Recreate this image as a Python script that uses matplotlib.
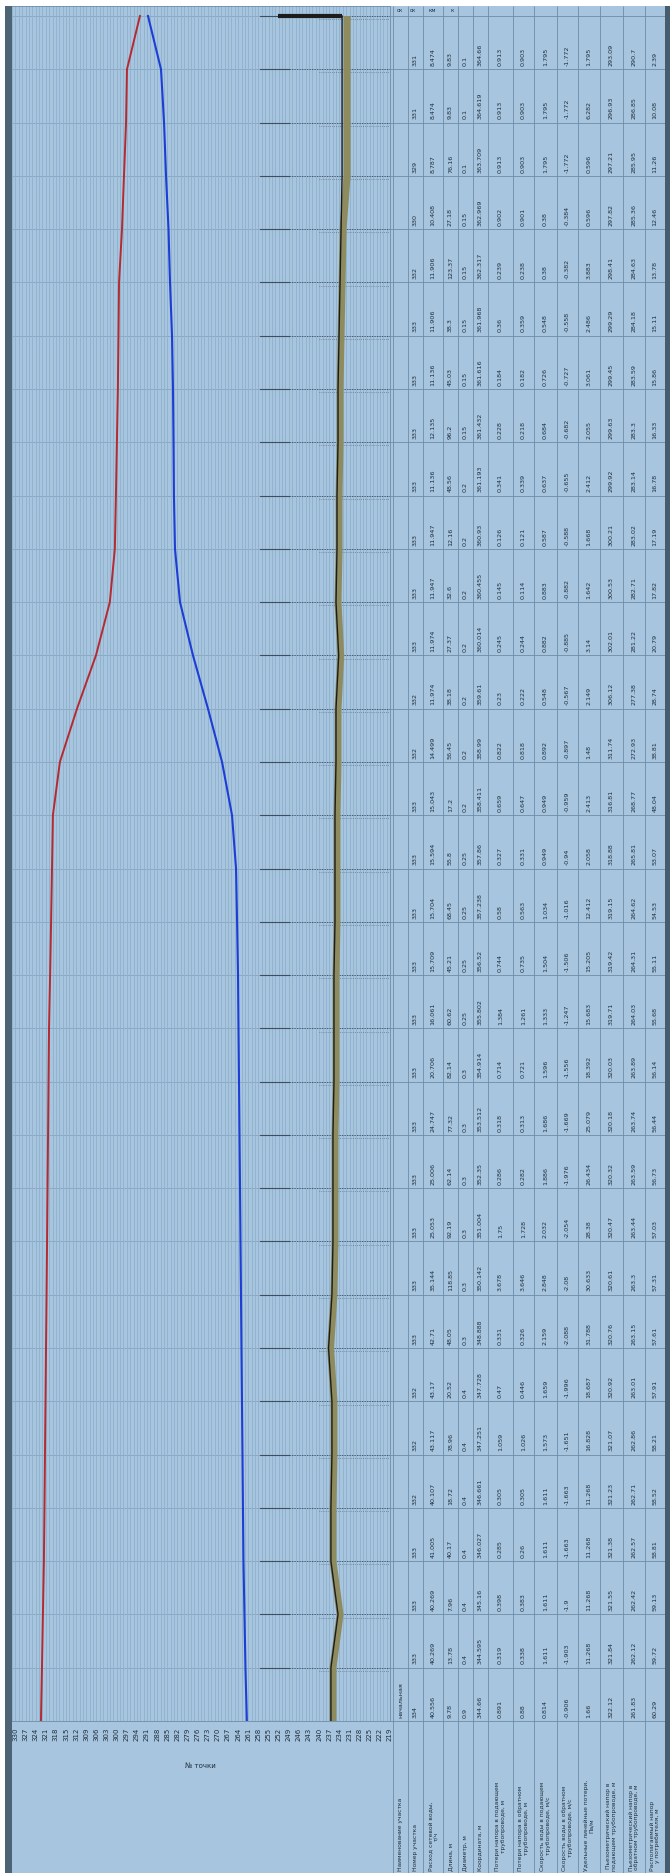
import matplotlib
matplotlib.use('Agg')
import matplotlib.pyplot as plt
from matplotlib.patches import Rectangle
from matplotlib.ticker import MultipleLocator, FormatStrFormatter

# точки трассы (0 - источник, 32 - конечный потребитель)
points = list(range(33))

# пьезометрические напоры, м
supply_head = [322.43, 322.12, 321.84, 321.55, 321.38, 321.23, 321.07, 320.92, 320.76, 320.61,
               320.47, 320.32, 320.18, 320.03, 319.71, 319.42, 319.15, 318.88, 316.81, 311.74,
               306.12, 302.01, 300.53, 300.21, 299.92, 299.63, 299.45, 299.29, 298.41, 297.82,
               297.21, 296.93, 293.09]
return_head = [261.41, 261.83, 262.12, 262.42, 262.57, 262.71, 262.86, 263.01, 263.15, 263.30,
               263.44, 263.59, 263.74, 263.89, 264.03, 264.31, 264.62, 265.81, 268.77, 272.93,
               277.38, 281.22, 282.71, 283.02, 283.14, 283.30, 283.59, 284.18, 284.63, 285.36,
               285.95, 286.85, 290.70]
ground = [235.9, 235.9, 233.8, 235.9, 235.9, 235.6, 235.6, 236.6, 235.6, 235.3, 235.3, 235.3,
          235.0, 235.0, 235.0, 234.7, 234.7, 234.7, 234.4, 234.4, 233.6, 234.4, 234.1, 234.1,
          233.8, 233.8, 233.5, 233.2, 232.9, 231.7, 231.7, 231.7, 231.7]
pipe = [236.5, 236.5, 234.4, 236.5, 236.5, 236.2, 236.2, 237.2, 236.2, 235.9, 235.9, 235.9,
        235.6, 235.6, 235.6, 235.3, 235.3, 235.3, 235.0, 235.0, 234.2, 235.0, 234.7, 234.7,
        234.4, 234.4, 234.1, 233.8, 233.5, 233.2, 233.2, 233.2, 233.2]
# высота здания у конечного потребителя
building_head = [252.2, 233.2]
building_point = [32, 32]

# таблица по участкам (снизу вверх)
seg_name = ['начальная'] + [''] * 31
seg_num = [334, 333, 333, 333, 332, 332, 332, 333, 333, 333, 333, 333, 333, 333, 333, 333,
           333, 333, 332, 332, 333, 333, 333, 333, 333, 333, 333, 332, 330, 329, 331, 331]
flow = [40.556, 40.269, 40.269, 41.005, 40.107, 43.117, 43.17, 42.71, 35.144, 25.053, 25.006,
        24.747, 20.706, 16.061, 15.709, 15.704, 15.594, 15.043, 14.499, 11.974, 11.974, 11.947,
        11.947, 11.136, 12.135, 11.136, 11.906, 11.906, 10.408, 8.787, 8.474, 8.474]
chainage = [344.66, 344.595, 345.16, 346.027, 346.661, 347.251, 347.728, 348.888, 350.142,
            351.004, 352.35, 353.512, 354.914, 355.802, 356.52, 357.238, 357.86, 358.411,
            358.99, 359.61, 360.014, 360.455, 360.93, 361.193, 361.432, 361.616, 361.968,
            362.317, 362.969, 363.709, 364.619, 364.66]
length = [9.78, 13.78, 7.96, 40.17, 18.72, 78.96, 20.52, 48.05, 118.85, 92.19, 62.14, 77.32,
          82.14, 60.62, 45.21, 68.45, 55.8, 17.2, 56.45, 38.18, 27.37, 32.6, 12.16, 48.56, 96.2,
          45.03, 38.3, 123.37, 27.18, 76.16, 9.83, 9.83]
diameter = [0.9, 0.4, 0.4, 0.4, 0.4, 0.4, 0.4, 0.3, 0.3, 0.3, 0.3, 0.3, 0.3, 0.25, 0.25, 0.25,
            0.25, 0.2, 0.2, 0.2, 0.2, 0.2, 0.2, 0.2, 0.15, 0.15, 0.15, 0.15, 0.15, 0.1, 0.1, 0.1]
loss_supply = [0.891, 0.319, 0.398, 0.285, 0.305, 1.059, 0.47, 0.331, 3.678, 1.75, 0.286, 0.318,
               0.714, 1.384, 0.744, 0.58, 0.327, 0.659, 0.822, 0.23, 0.245, 0.145, 0.126, 0.341,
               0.228, 0.184, 0.36, 0.239, 0.902, 0.913, 0.913, 0.913]
loss_return = [0.88, 0.338, 0.383, 0.26, 0.305, 1.026, 0.446, 0.326, 3.646, 1.728, 0.282, 0.313,
               0.721, 1.261, 0.735, 0.563, 0.331, 0.647, 0.818, 0.222, 0.244, 0.114, 0.121,
               0.339, 0.218, 0.182, 0.359, 0.238, 0.901, 0.903, 0.903, 0.903]
vel_supply = [0.814, 1.611, 1.611, 1.611, 1.611, 1.573, 1.659, 2.159, 2.848, 2.032, 1.886,
              1.686, 1.596, 1.333, 1.504, 1.034, 0.949, 0.949, 0.892, 0.548, 0.882, 0.883,
              0.587, 0.637, 0.684, 0.726, 0.548, 0.38, 0.38, 1.795, 1.795, 1.795]
vel_return = [-0.906, -1.903, -1.9, -1.663, -1.663, -1.651, -1.996, -2.088, -2.08, -2.054,
              -1.976, -1.669, -1.556, -1.247, -1.506, -1.016, -0.94, -0.959, -0.897, -0.567,
              -0.885, -0.882, -0.588, -0.655, -0.682, -0.727, -0.558, -0.382, -0.384, -1.772,
              -1.772, -1.772]
spec_loss = [1.66, 11.268, 11.268, 11.268, 11.268, 16.828, 18.687, 31.788, 30.633, 28.38,
             26.434, 25.079, 18.392, 15.683, 15.205, 12.412, 2.058, 2.413, 1.48, 2.149, 3.14,
             1.642, 1.668, 2.412, 2.055, 3.061, 2.486, 3.883, 0.596, 0.596, 6.282, 1.795]

row_labels = ['Наименование участка', 'Номер участка', 'Расход сетевой воды,\nт/ч',
              'Длина, м', 'Диаметр, м', 'Координата, м',
              'Потери напора в подающем\nтрубопроводе, м', 'Потери напора в обратном\nтрубопроводе, м',
              'Скорость воды в подающем\nтрубопроводе, м/с', 'Скорость воды в обратном\nтрубопроводе, м/с',
              'Удельные линейные потери,\nПа/м', 'Пьезометрический напор в\nподающем трубопроводе, м',
              'Пьезометрический напор в\nобратном трубопроводе, м', 'Располагаемый напор\nу потребителя, м']

W, H = 670, 1874
bg = '#a7c5de'
grid_c = '#8fb0cc'
row_c = '#7f9ebb'
line_c = '#6f8ca7'
text_c = '#1f2e3d'


def fx(x):
    return x / W


def fy(y):
    return 1 - y / H


fig = plt.figure(figsize=(W / 100, H / 100), dpi=100, facecolor='white')
fig.add_artist(Rectangle((fx(5), 0), fx(670) - fx(5), fy(7), transform=fig.transFigure,
                         facecolor=bg, edgecolor='none', zorder=0))
fig.add_artist(Rectangle((fx(5), 0), fx(12) - fx(5), fy(7), transform=fig.transFigure,
                         facecolor='#4d6475', edgecolor='none', zorder=1))
fig.add_artist(Rectangle((fx(665), 0), fx(670) - fx(665), fy(7), transform=fig.transFigure,
                         facecolor='#465d70', edgecolor='none', zorder=1))

unit = (1722 - 17) / 32.0
ytop = 32 + (17 - 7) / unit
ybot = -(H - 1722) / unit

# график
ax = fig.add_axes([fx(12), fy(1722), fx(390) - fx(12), fy(7) - fy(1722)])
ax.set_facecolor(bg)
ax.set_xlim(331, 219)
ax.set_ylim(0, ytop)
ax.xaxis.set_major_locator(MultipleLocator(3))
ax.xaxis.set_minor_locator(MultipleLocator(1))
ax.xaxis.set_major_formatter(FormatStrFormatter('%d'))
ax.grid(which='both', axis='x', color=grid_c, lw=0.6)
ax.set_yticks([])
ax.tick_params(axis='x', which='both', length=0, pad=4, labelsize=5, labelcolor=text_c,
               labelrotation=90)
for s in ax.spines.values():
    s.set_color(line_c)
    s.set_linewidth(0.6)
ax.spines['left'].set_visible(False)

for k in points:
    ax.axhline(k, color=row_c, lw=0.5, zorder=1)
    ax.plot([257.5, 249.0], [k, k], color='#3c4f62', lw=0.8, zorder=2)
    ax.plot([249.0, 219.0], [k, k], color='#3c4f62', lw=0.6, dashes=(1.5, 1.5), zorder=2)
    ax.plot([240.0, 219.0], [k - 0.06, k - 0.06], color='#4a5d70', lw=0.5, dashes=(1, 2), zorder=2)

ax.plot(ground, points, color='#8e8c5f', lw=5, solid_capstyle='butt', zorder=3)
ax.plot(pipe, points, color='#1c1c1c', lw=1.0, zorder=4)
ax.plot(building_head, building_point, color='#1c1c1c', lw=3, solid_capstyle='butt', zorder=4)
ax.plot(supply_head, points, color='#b52a30', lw=1.4, zorder=5)
ax.plot(return_head, points, color='#1c3ed6', lw=1.5, zorder=5)

fig.text(fx(200), fy(1766), '№ точки', fontsize=5, color=text_c, ha='center', va='center')

# таблица
tax = fig.add_axes([fx(390), 0, fx(667) - fx(390), fy(7)])
tax.set_xlim(390, 667)
tax.set_ylim(ybot, ytop)
tax.axis('off')
col_edges = [393, 408, 423, 443, 458, 473, 488, 513, 534, 557, 578, 600, 623, 645, 665]
tax.vlines(col_edges, ybot, ytop, color=line_c, lw=0.6)
tax.hlines(points, 390, 665, color=line_c, lw=0.6)

available = [round(s - r, 2) for s, r in zip(supply_head[1:], return_head[1:])]
columns = [seg_name, seg_num, flow, length, diameter, chainage, loss_supply, loss_return,
           vel_supply, vel_return, spec_loss, supply_head[1:], return_head[1:], available]
for c, col in enumerate(columns):
    xc = (col_edges[c] + col_edges[c + 1]) / 2
    for i, v in enumerate(col):
        s = v if isinstance(v, str) else '{:g}'.format(v)
        tax.text(xc, i + 0.08, s, rotation=90, ha='center', va='bottom', fontsize=4.6,
                 color=text_c)
    tax.text(xc, ybot + 0.06, row_labels[c], rotation=90, ha='center', va='bottom',
             fontsize=4.3, color=text_c, linespacing=1.1)

for x, s in zip([400, 413, 432, 452], ['ск', 'ск', 'км', 'к']):
    tax.text(x, 32 + 7 / unit, s, ha='center', va='center', fontsize=4, color=text_c)

fig.savefig('out.png', dpi=100, facecolor='white')
